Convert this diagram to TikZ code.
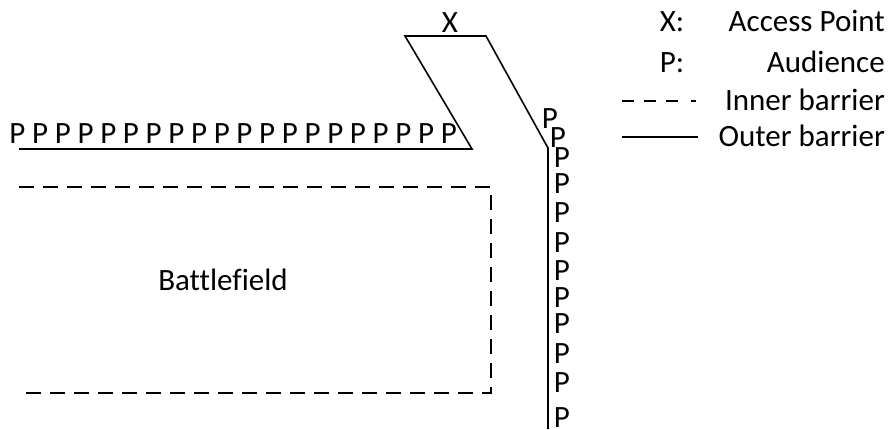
\documentclass[tikz,border=0pt]{standalone}
\usepackage{fontspec}
\setmainfont[Ligatures=NoCommon]{Carlito}
\begin{document}
\begin{tikzpicture}[x=1pt,y=-1pt,
  lbl/.style={inner sep=0pt,font=\fontsize{31}{32}\selectfont},
  aud/.style={lbl,anchor=base},
  barrier/.style={line width=1.6pt},
  inner/.style={line width=1.6pt,dash pattern=on 15pt off 9pt}]
\useasboundingbox (0,0) rectangle (892,429);
% outer barrier
\coordinate (h0) at (19,149);
\coordinate (h1) at (472,149);
\coordinate (t0) at (405,36);
\coordinate (t1) at (486,36);
\coordinate (v0) at (548,148);
\coordinate (v1) at (548,429);
\draw[barrier] (h0) -- (h1) -- (t0) -- (t1) -- (v0) -- (v1);
% inner barrier
\coordinate (i0) at (19,187);
\coordinate (i1) at (491,187);
\coordinate (i2) at (491,393);
\coordinate (i3) at (19,393);
\draw[inner] (i0) -- (i1) -- (i2) -- (i3);
% labels
\node[lbl,anchor=base] (xap) at (450,32) {X};
\node[lbl] (bf) at (223,280) {Battlefield};
\foreach \i in {0,...,19}{
  \node[aud] (top\i) at ({17.5+22.7*\i},143) {P};
}
\foreach \y [count=\k] in {118,137,157,183,212,242,270,297,323,353,382,417}{
  \pgfmathsetmacro{\xx}{\k==1 ? 550 : (\k==2 ? 558 : 562)}
  \node[aud] (side\k) at (\xx,\y+10) {P};
}
% legend
\node[lbl,anchor=base] (lx) at (672,31) {X:};
\node[lbl,anchor=base east] (lxa) at (885,31) {Access Point};
\node[lbl,anchor=base] (lp) at (672,72) {P:};
\node[lbl,anchor=base east] (lpa) at (885,72) {Audience};
\node[lbl,anchor=base east] (lin) at (885,110) {Inner barrier};
\node[lbl,anchor=base east] (lout) at (885,146) {Outer barrier};
\coordinate (ld0) at (622,101);
\coordinate (ld1) at (697,101);
\draw[line width=1.6pt,dash pattern=on 12pt off 10pt on 12pt off 10pt on 12pt off 13pt on 5pt off 20pt] (ld0) -- (ld1);
\coordinate (lo0) at (622,137);
\coordinate (lo1) at (698,137);
\draw[barrier] (lo0) -- (lo1);
\end{tikzpicture}
\end{document}
